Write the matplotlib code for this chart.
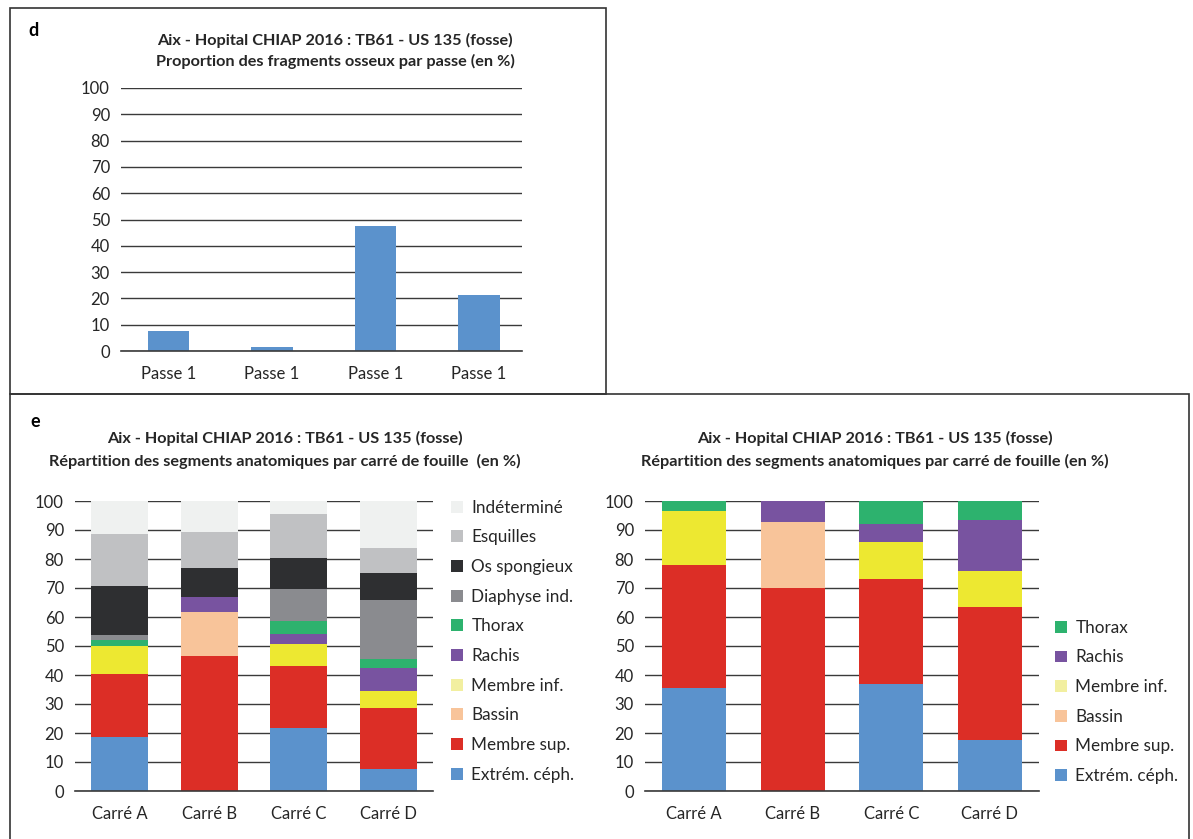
import numpy as np
import matplotlib
matplotlib.use("agg")
import matplotlib.pyplot as plt
from matplotlib.patches import Patch, Rectangle

plt.rcParams['font.family'] = ['Lato', 'DejaVu Sans']

# ---- data ----
title_line1 = "Aix - Hopital CHIAP 2016 : TB61 - US 135 (fosse)"
title_d2 = "Proportion des fragments osseux par passe (en %)"
title_e2a = "Répartition des segments anatomiques par carré de fouille  (en %)"
title_e2b = "Répartition des segments anatomiques par carré de fouille (en %)"

passes = ["Passe 1", "Passe 1", "Passe 1", "Passe 1"]
passe_values = [7.6, 1.7, 47.6, 21.3]

carres = ["Carré A", "Carré B", "Carré C", "Carré D"]

# left stacked chart (bottom -> top)
seg_left = ["Extrém. céph.", "Membre sup.", "Bassin", "Membre inf.", "Rachis",
            "Thorax", "Diaphyse ind.", "Os spongieux", "Esquilles", "Indéterminé"]
left_values = {
    "Extrém. céph.": [18.5, 0.0, 21.8, 7.7],
    "Membre sup.":   [21.8, 46.6, 21.4, 21.0],
    "Bassin":        [0.0, 15.2, 0.0, 0.0],
    "Membre inf.":   [9.8, 0.0, 7.4, 5.9],
    "Rachis":        [0.0, 5.0, 3.4, 7.7],
    "Thorax":        [2.0, 0.0, 4.7, 3.1],
    "Diaphyse ind.": [1.6, 0.0, 11.1, 20.5],
    "Os spongieux":  [16.9, 10.1, 10.5, 9.2],
    "Esquilles":     [18.1, 12.3, 15.3, 8.7],
    "Indéterminé":   [11.3, 10.8, 4.4, 16.2],
}

# right stacked chart (bottom -> top)
seg_right = ["Extrém. céph.", "Membre sup.", "Bassin", "Membre inf.", "Rachis", "Thorax"]
right_values = {
    "Extrém. céph.": [35.5, 0.0, 37.0, 17.5],
    "Membre sup.":   [42.4, 70.1, 36.1, 45.8],
    "Bassin":        [0.0, 22.5, 0.0, 0.0],
    "Membre inf.":   [18.7, 0.0, 12.6, 12.7],
    "Rachis":        [0.0, 7.4, 6.5, 17.6],
    "Thorax":        [3.4, 0.0, 7.8, 6.4],
}

colors = {
    "Extrém. céph.": "#5B92CC",
    "Membre sup.":   "#DC2E26",
    "Bassin":        "#F8C49A",
    "Membre inf.":   "#EDE831",
    "Rachis":        "#7853A0",
    "Thorax":        "#2DB26E",
    "Diaphyse ind.": "#8A8B8F",
    "Os spongieux":  "#2E2F31",
    "Esquilles":     "#C0C1C3",
    "Indéterminé":   "#EFF1F0",
}
legend_colors = dict(colors)
legend_colors["Membre inf."] = "#F2EFA0"

W, H = 1193, 839
fig = plt.figure(figsize=(W / 100, H / 100), dpi=100)
TXT = "#262626"


def px_axes(x0, y0, x1, y1):
    # pixel box (top-left origin) -> axes
    return fig.add_axes([x0 / W, 1 - y1 / H, (x1 - x0) / W, (y1 - y0) / H])


def style_axis(ax):
    ax.set_ylim(0, 100)
    ax.set_yticks(np.arange(0, 101, 10))
    ax.yaxis.grid(True, color="#3a3a3a", linewidth=1.0)
    ax.set_axisbelow(True)
    for s in ["left", "right", "top"]:
        ax.spines[s].set_visible(False)
    ax.spines["bottom"].set_color("#3a3a3a")
    ax.spines["bottom"].set_linewidth(1.2)
    ax.tick_params(axis="both", length=0, labelsize=12, colors=TXT)
    ax.tick_params(axis="y", pad=8)
    ax.tick_params(axis="x", pad=11)


def fig_text(x, y, s, **kw):
    fig.text(x / W, 1 - y / H, s, **kw)


# frames
fig.add_artist(Rectangle((10 / W, 1 - 394 / H), (606 - 10) / W, (394 - 8) / H,
                         transform=fig.transFigure, fill=False, edgecolor="#333333", lw=1.2))
fig.add_artist(Rectangle((10 / W, 1 - 845 / H), (1189 - 10) / W, (845 - 394) / H,
                         transform=fig.transFigure, fill=False, edgecolor="#333333", lw=1.2))

# ---- panel d ----
fig_text(28, 31, "d", fontsize=13, fontweight="bold", va="center")
fig_text(335, 40, title_line1, fontsize=11.7, fontweight="bold", ha="center", va="center", color=TXT)
fig_text(335, 61, title_d2, fontsize=11.7, fontweight="bold", ha="center", va="center", color=TXT)

axd = px_axes(121, 88, 522, 351)
xd = np.arange(len(passes))
axd.bar(xd, passe_values, width=0.40, color="#5B92CC")
# bars sit slightly left of the slot centres in the original
axd.set_xlim(-0.459, 3.415)
axd.set_xticks(xd)
axd.set_xticklabels(passes)
style_axis(axd)

# ---- panel e ----
fig_text(30, 421, "e", fontsize=13, fontweight="bold", va="center")
fig_text(285, 438, title_line1, fontsize=11.7, fontweight="bold", ha="center", va="center", color=TXT)
fig_text(285, 461, title_e2a, fontsize=11.7, fontweight="bold", ha="center", va="center", color=TXT)
fig_text(875, 438, title_line1, fontsize=11.7, fontweight="bold", ha="center", va="center", color=TXT)
fig_text(875, 461, title_e2b, fontsize=11.7, fontweight="bold", ha="center", va="center", color=TXT)


def stacked(ax, segs, values, width):
    x = np.arange(len(carres))
    bottom = np.zeros(len(carres))
    for s in segs:
        v = np.array(values[s])
        ax.bar(x, v, bottom=bottom, width=width, color=colors[s], label=s)
        bottom += v
    ax.set_xlim(-0.5, len(carres) - 0.5)
    ax.set_xticks(x)
    ax.set_xticklabels(carres)
    style_axis(ax)
    handles = [Patch(facecolor=legend_colors[s], edgecolor="none", label=s) for s in segs[::-1]]
    return handles


leg_kw = dict(frameon=False, fontsize=12.3, handlelength=0.7, handleheight=0.7,
              handletextpad=0.5, labelspacing=0.8, labelcolor=TXT, borderaxespad=0,
              borderpad=0)

axl = px_axes(75, 501, 433, 791)
hl = stacked(axl, seg_left, left_values, 0.64)
axl.legend(handles=hl, loc="center left", bbox_to_anchor=(1.05, 0.517), **leg_kw)

axr = px_axes(645, 501, 1039, 791)
hr = stacked(axr, seg_right, right_values, 0.65)
axr.legend(handles=hr, loc="center left", bbox_to_anchor=(1.04, 0.307), **leg_kw)

fig.savefig("out.png", dpi=100)
